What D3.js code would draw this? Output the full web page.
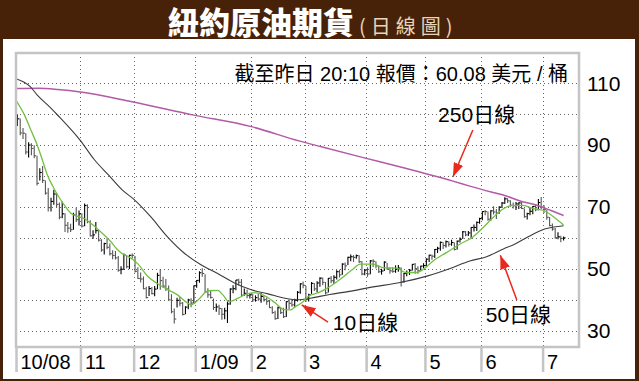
<!DOCTYPE html>
<html>
<head>
<meta charset="utf-8">
<script src="https://cdn.jsdelivr.net/npm/d3@7"></script>
<style>
  body { margin: 0; background: #fff; }
  svg { display: block; }
  text { font-family: "Liberation Sans", "Noto Sans CJK TC", sans-serif; }
</style>
</head>
<body>
<svg width="639" height="381"></svg>
<script>
// trading days from 1 Oct 2008 (index 0) to 13 Jul 2009
var monthStart = [0, 23, 42, 64, 84, 103, 125, 146, 166, 188];
var monthLabels = ["10/08", "11", "12", "1/09", "2", "3", "4", "5", "6", "7"];
var yTicks = [30, 50, 70, 90, 110];
var yGrid = [30, 40, 50, 60, 70, 80, 90, 100, 110];

var high = [
  100.0, 98.6, 95.6, 93.9, 91.0, 90.6, 90.0, 86.6, 82.6, 83.3, 78.6, 76.2, 73.0, 75.6, 74.6, 71.5, 71.8, 68.0, 65.2, 64.6, 68.2, 69.8, 68.9,
  68.0, 71.2, 70.9, 65.8, 62.5, 65.2, 62.8, 59.6, 58.5, 59.9, 58.3, 56.1, 55.8, 54.2, 50.9, 55.0, 54.4, 54.6, 55.0,
  54.2, 50.6, 48.9, 47.6, 44.3, 44.5, 44.2, 44.5, 48.8, 50.0, 47.5, 46.8, 44.7, 41.9, 37.3, 40.7, 41.0, 39.4, 38.0, 40.4, 40.6, 44.7,
  46.5, 49.3, 50.3, 48.3, 43.8, 43.0, 40.5, 38.9, 38.5, 37.4, 37.5, 39.5, 43.8, 44.8, 46.5, 46.9, 46.8, 43.7, 43.4, 42.0,
  42.0, 41.5, 42.0, 42.3, 41.5, 40.8, 40.0, 38.0, 36.5, 37.8, 37.4, 37.5, 39.6, 40.1, 40.0, 40.4, 42.9, 45.4, 46.0,
  44.5, 42.0, 45.8, 45.5, 46.1, 47.4, 47.3, 45.8, 47.1, 47.8, 48.0, 49.6, 49.8, 51.9, 52.1, 54.0, 54.7, 54.5, 54.7, 54.5, 52.6, 50.0,
  50.6, 52.9, 53.2, 52.5, 51.1, 50.1, 52.5, 52.0, 50.5, 50.6, 51.2, 51.3, 50.5, 48.7, 49.5, 50.0, 51.6, 52.0, 50.9, 51.1, 51.9,
  53.5, 54.6, 54.7, 56.5, 57.2, 58.9, 58.7, 59.2, 59.0, 59.5, 58.6, 59.2, 60.2, 62.3, 62.3, 62.3, 63.6, 64.4, 65.4, 66.6,
  68.7, 69.1, 68.6, 69.0, 70.3, 69.4, 70.3, 71.7, 73.2, 72.9, 72.2, 71.5, 71.7, 71.6, 71.8, 69.6, 68.2, 69.9, 70.4, 70.8, 72.6, 73.3,
  70.7, 69.2, 66.8, 64.7, 63.3, 61.9, 60.8, 60.5
];
var low = [
  96.2, 93.2, 92.0, 87.0, 86.0, 86.8, 85.8, 77.0, 78.6, 77.8, 74.0, 68.6, 68.6, 70.8, 70.0, 66.1, 66.4, 62.0, 61.7, 62.0, 62.7, 65.2, 64.1,
  63.4, 63.8, 64.8, 60.5, 59.8, 61.5, 58.9, 55.6, 54.7, 56.4, 54.4, 53.2, 53.1, 49.1, 48.3, 49.7, 50.3, 50.0, 53.5,
  48.9, 46.8, 45.7, 43.5, 40.5, 41.3, 41.8, 41.2, 43.5, 43.3, 44.0, 42.9, 39.9, 35.7, 32.4, 37.6, 38.0, 35.0, 35.4, 37.0, 37.7, 38.8,
  44.0, 45.6, 47.5, 42.5, 40.7, 40.5, 36.8, 36.2, 35.2, 33.6, 33.8, 32.6, 38.5, 42.2, 43.2, 44.7, 41.3, 41.3, 40.6, 40.5,
  39.4, 39.5, 39.8, 39.1, 39.5, 38.5, 37.4, 35.6, 33.6, 33.9, 35.5, 34.2, 34.5, 37.0, 37.8, 37.6, 39.5, 42.0, 43.8,
  39.4, 39.5, 42.0, 42.9, 42.5, 44.3, 44.8, 41.8, 42.4, 45.4, 45.3, 46.6, 47.3, 48.2, 49.6, 51.3, 52.5, 52.3, 53.3, 52.0, 48.0, 48.0,
  47.5, 48.3, 50.7, 50.3, 48.7, 48.2, 49.4, 49.8, 48.5, 48.8, 48.8, 49.1, 44.4, 45.6, 47.7, 48.1, 49.5, 48.5, 48.5, 49.3, 50.3,
  50.8, 52.3, 53.0, 53.6, 55.2, 55.9, 56.5, 57.0, 57.3, 57.5, 56.0, 56.3, 58.6, 59.7, 60.6, 60.7, 59.9, 62.1, 62.3, 64.6,
  65.8, 67.4, 65.6, 65.6, 67.6, 66.2, 67.9, 69.7, 71.0, 71.3, 70.1, 69.6, 69.1, 69.4, 69.4, 66.6, 66.0, 67.4, 67.7, 68.7, 69.0, 69.4,
  68.1, 65.9, 63.8, 62.4, 59.8, 59.6, 58.7, 59.2
];
var close = [
  98.53, 93.97, 93.88, 87.81, 90.06, 88.95, 86.59, 77.70, 81.19, 78.63, 74.54, 69.85, 71.85, 74.25, 70.89, 66.75, 67.84, 64.15, 63.22, 62.73, 67.50, 65.96, 67.81,
  63.91, 70.53, 65.30, 60.77, 61.04, 62.41, 59.33, 56.16, 58.24, 57.04, 54.95, 54.39, 53.62, 49.62, 49.93, 54.50, 50.77, 54.44, 54.43,
  49.28, 46.96, 46.79, 43.67, 40.81, 43.71, 42.07, 43.52, 47.98, 46.28, 44.51, 43.60, 40.06, 36.22, 33.87, 39.91, 38.98, 35.35, 37.71, 40.02, 39.03, 44.60,
  46.34, 48.81, 48.58, 42.63, 41.70, 40.83, 37.59, 37.78, 37.28, 35.40, 36.51, 38.74, 43.55, 43.67, 46.47, 45.73, 41.58, 42.16, 41.44, 41.68,
  40.08, 40.78, 40.32, 41.17, 40.17, 39.56, 37.55, 35.94, 33.98, 37.51, 35.93, 34.62, 39.48, 38.94, 38.44, 39.96, 42.50, 45.22, 44.76,
  40.15, 41.65, 45.38, 43.61, 45.52, 47.07, 45.71, 42.33, 47.03, 46.25, 47.35, 49.16, 48.14, 51.61, 51.06, 53.80, 53.98, 53.77, 54.34, 52.38, 48.41, 49.66,
  48.39, 52.64, 52.51, 51.05, 49.15, 49.38, 52.24, 50.05, 49.41, 49.25, 50.00, 50.33, 45.88, 48.55, 48.86, 49.62, 51.55, 50.14, 49.46, 50.97, 51.12,
  53.20, 54.47, 54.16, 56.34, 56.71, 58.63, 57.61, 58.85, 58.02, 58.57, 56.34, 59.03, 59.65, 62.04, 61.05, 61.67, 63.45, 63.45, 65.08, 66.31,
  68.58, 68.55, 66.12, 68.81, 68.44, 68.09, 70.01, 71.33, 72.68, 72.04, 70.62, 70.47, 71.03, 71.37, 69.55, 66.93, 67.91, 68.67, 70.23, 69.16, 71.49, 69.89,
  69.31, 66.73, 64.05, 62.93, 60.14, 60.41, 59.89, 60.08
];

// moving averages: [day index, value]
var ma10 = [[0,104.5],[3,99.8],[5.5,94.5],[7.6,90.0],[9.5,85.0],[11.2,80.4],[13,77.0],[14.8,74.0],[17,71.0],[19.5,68.1],[22,67.0],[24,66.5],[26.7,64.8],[30.2,62.1],[33.8,58.9],[36,56.5],[38.6,54.6],[40,54.1],[43.6,51.6],[47.1,47.6],[50.7,45.2],[54.3,43.3],[57.9,41.5],[60.5,39.5],[62.6,38.5],[65,40.0],[68.6,43.0],[72,43.1],[74,41.5],[76,39.5],[79.3,40.6],[82,41.8],[85,42.4],[89,41.3],[92.5,39.1],[95.5,37.0],[97.9,36.8],[99.6,37.8],[102,39.1],[104.4,41.2],[108,42.4],[111.5,44.0],[115,46.2],[119.9,49.7],[122.9,51.6],[127.6,51.6],[131,50.5],[136,50.3],[139,48.9],[143,48.9],[145.5,50.0],[149,52.7],[153.8,55.4],[158.6,58.1],[163,60.3],[166.9,63.5],[170.5,66.8],[174,69.5],[177.6,70.6],[181,70.6],[184.8,69.5],[188.3,69.0],[192,66.8],[195.5,64.2]];
var ma50 = [[0,111.5],[5,109.0],[7.6,106.2],[12,102.4],[15,99.6],[23,91.5],[28,85.3],[33,80.4],[38,75.5],[42,72.6],[48,67.0],[54,60.5],[60,55.2],[66,51.4],[72,48.6],[78,45.5],[84,43.3],[90,42.0],[96,40.6],[101,40.1],[105,40.6],[112,41.8],[119,42.8],[126,44.0],[138,45.8],[147,47.8],[155,50.2],[162,52.6],[168,54.0],[174,56.5],[178,58.0],[183,60.5],[189,63.0],[192,63.6],[195.5,64.0]];
var ma250 = [[0,108.3],[8,108.4],[15,108.0],[23,107.2],[41,104.1],[63,99.8],[84,96.0],[101,91.4],[109,89.5],[124,86.0],[138,82.8],[156,78.4],[162,76.8],[170,74.8],[175,73.6],[180,72.0],[186,70.6],[191,68.9],[195.5,67.3]];

var notes = [
  { text: "250日線", at: [150.7, 97.6], tail: [163.1, 94.9], tip: [156, 79.8] },
  { text: "10日線", at: [113.1, 30.3], tail: [111.4, 32.9], tip: [102, 38.4] },
  { text: "50日線", at: [167.7, 33.0], tail: [178.8, 40.0], tip: [172.9, 54.5] }
];

var svg = d3.select("svg");
var brown = "#482208";

// frame + title
svg.append("rect").attr("width", 639).attr("height", 381).attr("fill", brown);
svg.append("rect").attr("x", 3).attr("y", 39).attr("width", 632).attr("height", 340).attr("fill", "#fff");

var title = svg.append("text").attr("x", 168).attr("y", 34);
title.append("tspan").text("紐約原油期貨")
  .attr("font-family", "Noto Sans CJK TC").attr("font-weight", 900)
  .attr("font-size", 31).attr("fill", "#fff");
title.append("tspan").text("(日線圖)")
  .attr("font-family", "Noto Sans CJK TC").attr("font-size", 20)
  .attr("letter-spacing", 5).attr("dx", 5).attr("fill", "#e6d6bd");

var pLeft = 16, pRight = 579, pTop = 53, pBottom = 347;

var x = d3.scaleLinear().domain([0, 201]).range([pLeft, pRight]);
var y = d3.scaleLinear().domain([30, 110]).range([331, 83.3]);

svg.append("defs").append("clipPath").attr("id", "plotclip")
  .append("rect").attr("x", pLeft).attr("y", pTop).attr("width", pRight - pLeft).attr("height", pBottom - pTop);

// dotted grid
var grid = svg.append("g").attr("stroke", "#666").attr("stroke-width", 1).attr("stroke-dasharray", "1,3");
grid.selectAll(".h").data(yGrid).enter().append("line")
  .attr("x1", pLeft).attr("x2", pRight)
  .attr("y1", d => Math.round(y(d)) + 0.5).attr("y2", d => Math.round(y(d)) + 0.5);
grid.selectAll(".v").data(monthStart.slice(1)).enter().append("line")
  .attr("y1", pTop).attr("y2", pBottom)
  .attr("x1", d => Math.round(x(d)) + 0.5).attr("x2", d => Math.round(x(d)) + 0.5);

var plot = svg.append("g").attr("clip-path", "url(#plotclip)");

// OHLC style bars (high-low + close tick)
var bars = plot.selectAll(".bar").data(close).enter().append("g")
  .attr("stroke", (d, i) => (i > 0 && d < close[i - 1]) ? "#555" : "#000")
  .attr("stroke-width", 1.1);
bars.append("line")
  .attr("x1", (d, i) => x(i + 0.5)).attr("x2", (d, i) => x(i + 0.5))
  .attr("y1", (d, i) => y(high[i])).attr("y2", (d, i) => y(low[i]));
bars.append("line")
  .attr("x1", (d, i) => x(i + 0.5)).attr("x2", (d, i) => x(i + 0.5) + 2)
  .attr("y1", d => y(d)).attr("y2", d => y(d));

var line = d3.line().x(d => x(d[0])).y(d => y(d[1])).curve(d3.curveMonotoneX);
plot.append("path").datum(ma250).attr("d", line).attr("fill", "none").attr("stroke", "#b25aa6").attr("stroke-width", 1.5);
plot.append("path").datum(ma50).attr("d", line).attr("fill", "none").attr("stroke", "#3c3c3c").attr("stroke-width", 1.1);
plot.append("path").datum(ma10).attr("d", line).attr("fill", "none").attr("stroke", "#72c043").attr("stroke-width", 1.3);

// plot border
svg.append("rect").attr("x", pLeft).attr("y", pTop).attr("width", pRight - pLeft).attr("height", pBottom - pTop)
  .attr("fill", "none").attr("stroke", "#c4c4c4").attr("stroke-width", 2.5);

// right value axis
var yAxis = svg.append("g").attr("transform", "translate(583,0)")
  .call(d3.axisRight(y).tickValues(yTicks).tickSize(0).tickPadding(4));
yAxis.select(".domain").remove();
yAxis.selectAll("text").attr("font-size", 21).attr("fill", "#000")
  .style("font-family", "Liberation Sans, sans-serif");

// month axis
var xAxis = svg.append("g").attr("transform", "translate(0," + pBottom + ")")
  .call(d3.axisBottom(x).tickValues(monthStart).tickFormat((d, i) => monthLabels[i]).tickSize(25));
xAxis.select(".domain").remove();
xAxis.selectAll("line").attr("stroke", "#c4c4c4").attr("stroke-width", 2.5);
xAxis.selectAll("text").attr("x", 4).attr("y", 22).attr("dy", 0)
  .style("text-anchor", "start").attr("font-size", 20).attr("fill", "#000")
  .style("font-family", "Liberation Sans, sans-serif");

// quote line
svg.append("text").attr("x", 568).attr("y", 81).attr("text-anchor", "end")
  .attr("font-size", 20).attr("fill", "#000")
  .text("截至昨日 20:10 報價：60.08 美元 / 桶");

// arrows and labels
svg.append("defs").append("marker").attr("id", "head")
  .attr("viewBox", "0 -5 14 10").attr("refX", 14).attr("refY", 0)
  .attr("markerUnits", "userSpaceOnUse").attr("markerWidth", 14).attr("markerHeight", 10)
  .attr("orient", "auto")
  .append("path").attr("d", "M0,-5L14,0L0,5Z").attr("fill", "#e8291c");

notes.forEach(function (n) {
  svg.append("line")
    .attr("x1", x(n.tail[0])).attr("y1", y(n.tail[1]))
    .attr("x2", x(n.tip[0])).attr("y2", y(n.tip[1]))
    .attr("stroke", "#e8291c").attr("stroke-width", 1.5)
    .attr("marker-end", "url(#head)");
  svg.append("text").attr("x", x(n.at[0])).attr("y", y(n.at[1]))
    .attr("font-size", 21).attr("fill", "#000").text(n.text);
});
</script>
</body>
</html>
